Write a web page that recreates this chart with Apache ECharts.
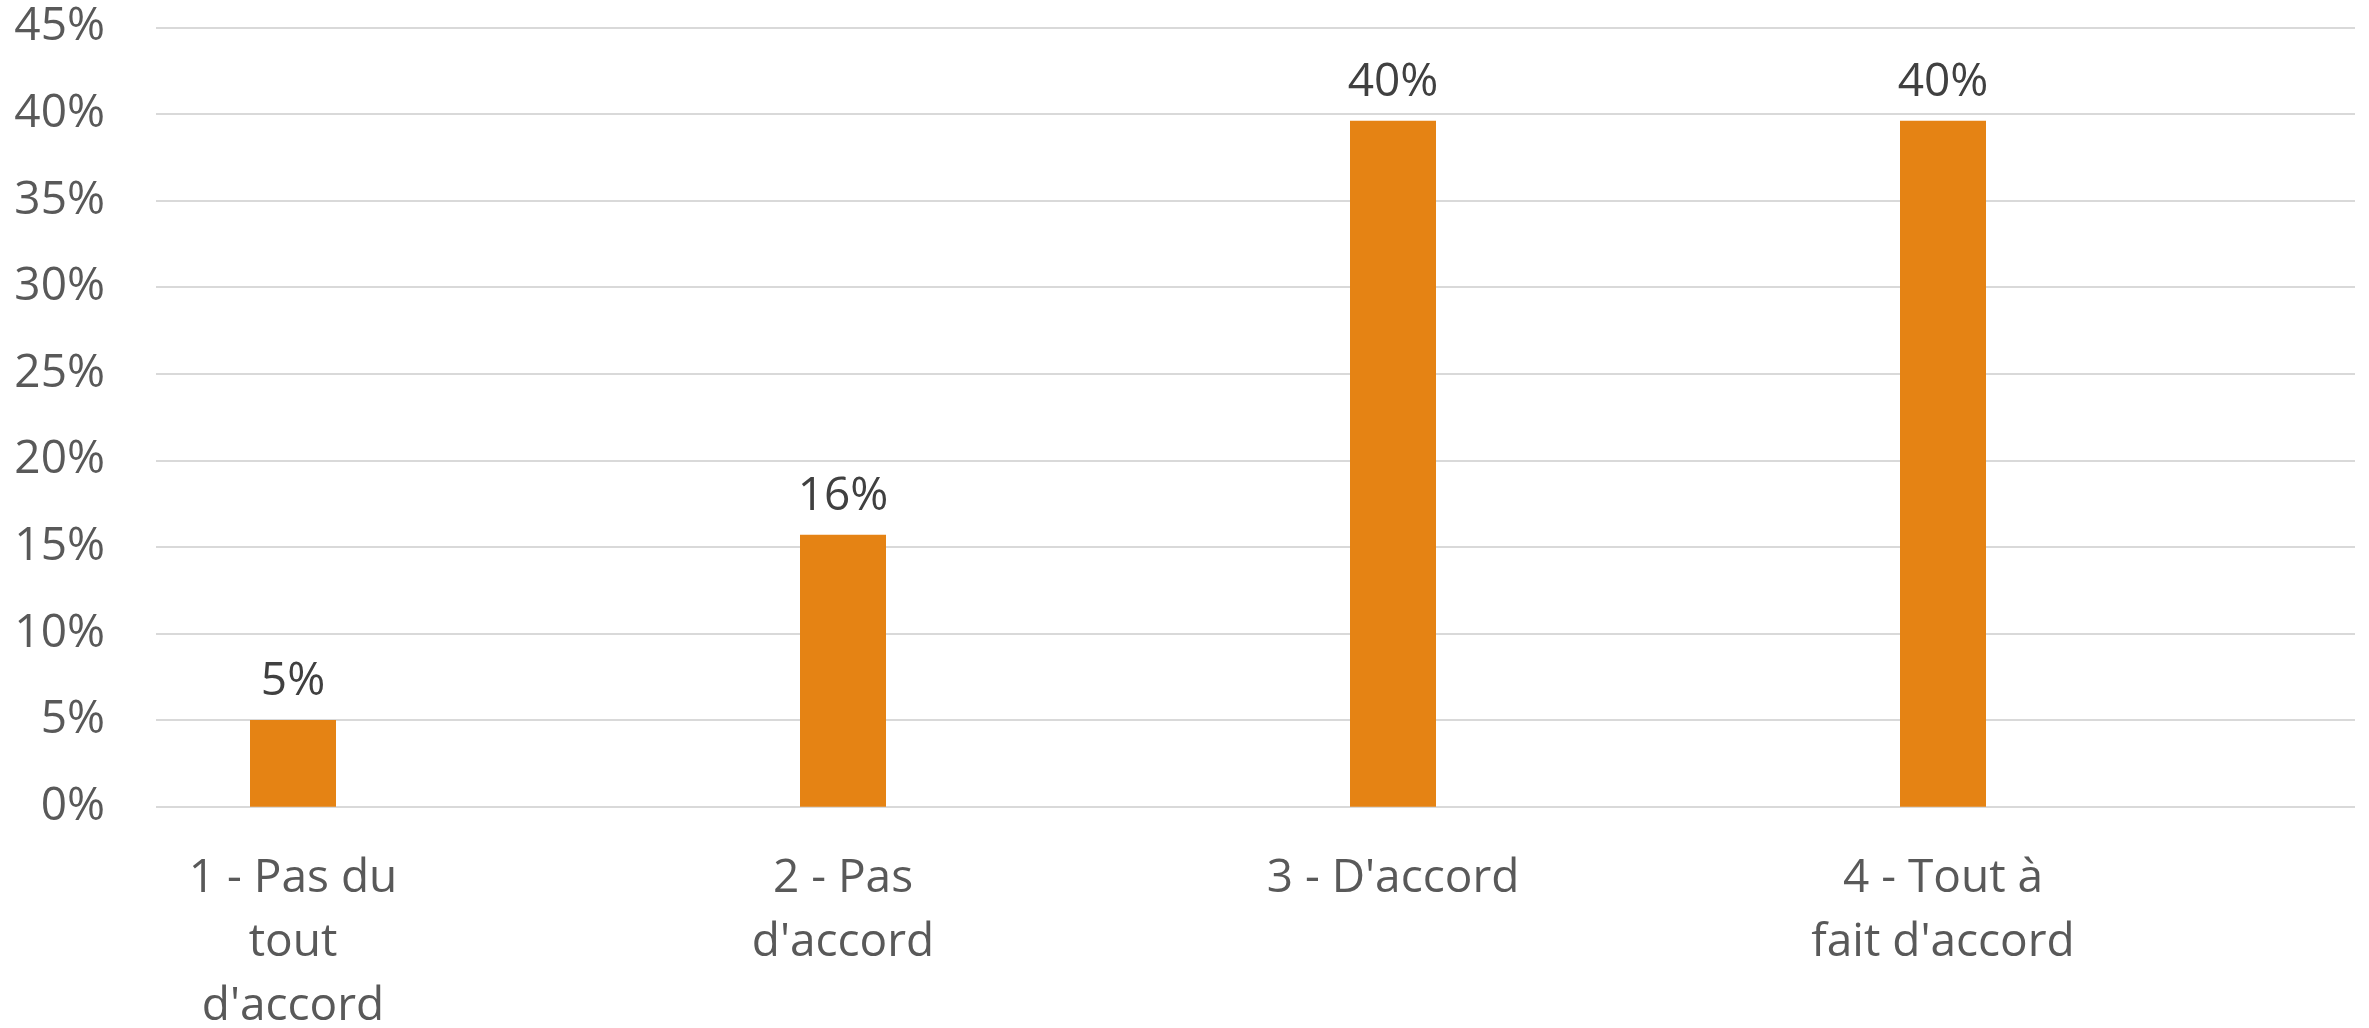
<!DOCTYPE html>
<html>
<head>
<meta charset="utf-8">
<script src="https://cdn.jsdelivr.net/npm/echarts@6/dist/echarts.min.js"></script>
<style>
html,body{margin:0;padding:0;background:#fff;}
#chart{width:2369px;height:1028px;}
</style>
</head>
<body>
<div id="chart"></div>
<script>
const categories = ["1 - Pas du\ntout\nd'accord", "2 - Pas\nd'accord", "3 - D'accord", "4 - Tout à\nfait d'accord"];
const values = [5.0, 15.7, 39.6, 39.6];
const yTicks = [0, 5, 10, 15, 20, 25, 30, 35, 40, 45];

const FONT = "'Open Sans', 'Noto Sans', sans-serif";
const chart = echarts.init(document.getElementById('chart'), null, {renderer: 'canvas'});
const yMin = yTicks[0], yMax = yTicks[yTicks.length - 1], yStep = yTicks[1] - yTicks[0];

chart.setOption({
  backgroundColor: '#ffffff',
  animation: false,
  grid: [
    {left: 156, right: 14, top: 27.3, bottom: 221.3, containLabel: false, outerBoundsMode: 'none'},
    {left: 18, width: 2200, top: 27.3, bottom: 221.3, containLabel: false, outerBoundsMode: 'none'}
  ],
  xAxis: [
    {gridIndex: 0, type: 'category', data: [''], show: false},
    {
      gridIndex: 1, type: 'category', data: categories,
      axisLine: {show: false}, axisTick: {show: false},
      axisLabel: {
        interval: 0, color: '#595959', fontFamily: FONT, fontSize: 46,
        lineHeight: 64, margin: 40, align: 'center'
      }
    }
  ],
  yAxis: [
    {
      gridIndex: 0, type: 'value', min: yMin, max: yMax, interval: yStep,
      axisLine: {show: false}, axisTick: {show: false},
      axisLabel: {
        color: '#595959', fontFamily: FONT, fontSize: 46, margin: 51,
        verticalAlign: 'middle', padding: [9, 0, 0, 0],
        formatter: v => v + '%'
      },
      splitLine: {show: true, lineStyle: {color: '#D9D9D9', width: 2}}
    },
    {
      gridIndex: 1, type: 'value', min: yMin, max: yMax, interval: yStep,
      show: false, splitLine: {show: false}
    }
  ],
  series: [{
    type: 'bar',
    xAxisIndex: 1, yAxisIndex: 1,
    data: values,
    barWidth: 86,
    itemStyle: {color: '#E58314'},
    label: {
      show: true, position: 'top', distance: 15,
      color: '#404040', fontFamily: FONT, fontSize: 46, lineHeight: 46,
      formatter: p => Math.round(p.value) + '%'
    }
  }]
});
</script>
</body>
</html>
